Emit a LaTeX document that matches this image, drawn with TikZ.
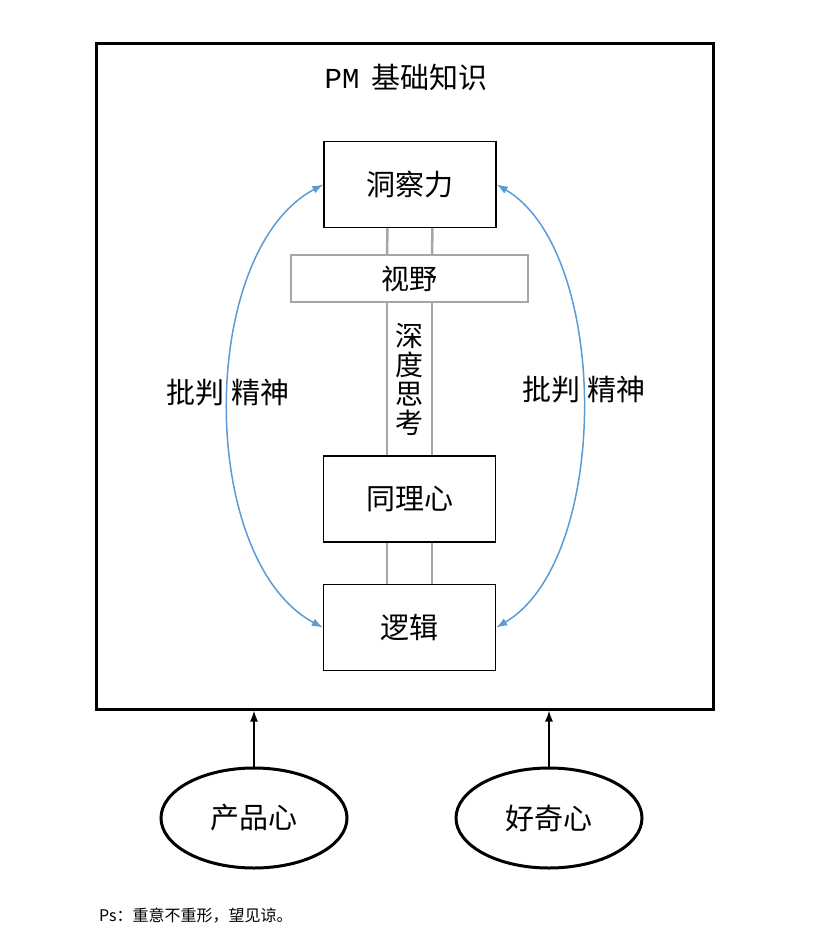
\documentclass[tikz,border=0pt]{standalone}
\usepackage{fontspec}
\newfontfamily\cjk{Noto Sans CJK SC}
\newfontfamily\latinmono{Liberation Mono}
\usepackage{xcolor}
\usepackage{tikz}
\usetikzlibrary{positioning, arrows.meta, shapes.geometric}
\definecolor{arcblue}{HTML}{5B9BD5}
\definecolor{bargray}{HTML}{A6A6A6}

\begin{document}
\begin{tikzpicture}[
        x=1pt, y=-1pt,
        frame/.style={draw, line width=3pt, minimum width=617pt, minimum height=665pt, inner sep=0pt},
        skill/.style={draw, line width=1.5pt, minimum width=172pt, minimum height=86pt, inner sep=0pt, font=\cjk\fontsize{29}{30}\selectfont},
        viewbox/.style={draw=bargray, line width=1.8pt, minimum width=237pt, minimum height=47pt, inner sep=0pt, font=\cjk\fontsize{28}{29}\selectfont},
        bar/.style={bargray, line width=2.5pt},
        critic/.style={arcblue, line width=1.5pt, {Latex[length=11pt,width=8pt]}-{Latex[length=11pt,width=8pt]}},
        drive/.style={ellipse, draw, line width=3pt, minimum width=186pt, minimum height=100pt, inner sep=0pt, font=\cjk\fontsize{29}{30}\selectfont},
        feed/.style={line width=1.6pt, -{Latex[length=11pt,width=8pt]}},
        word/.style={font=\cjk\fontsize{29}{30}\selectfont},
    ]
    \useasboundingbox (0,0) rectangle (818,947);

    % === FRAME ===
    \node[frame] (pm) at (404.5,376.5) {};
    \node[word] (title) at (406,77) {{\latinmono PM}\hspace{12pt}基础知识};

    % === SKILLS ===
    \node[skill] (insight) at (410,184.5) {洞察力};
    \node[viewbox] (view) at (409.5,278.5) {视野};
    \node[skill] (empathy) at (409.5,499) {同理心};
    \node[skill] (logic) at (409.5,627.5) {逻辑};
    \node[word, align=center, font=\cjk\fontsize{28}{29}\selectfont] (deep) at (409,379) {深\\度\\思\\考};

    % Gray rails
    \foreach \a/\b in {insight/view, view/empathy, empathy/logic}
        \foreach \s in {-22.5,22.5}
            \draw[bar] ([xshift=\s pt]\a.south) -- ([xshift=\s pt]\b.north);

    % Critical thinking arcs
    \draw[critic] (logic.west) .. controls (197,560) and (197,252) .. (insight.west);
    \draw[critic] (insight.east) .. controls (611,252) and (611,560) .. (logic.east);
    \node[word] (leftcrit) at (228,393) {批判 精神};
    \node[word] (rightcrit) at (584,390) {批判 精神};

    % === DRIVERS ===
    \node[drive] (product) at (254,818) {产品心};
    \node[drive] (curious) at (549,818) {好奇心};
    \draw[feed] (product.north) -- (product.north |- pm.south);
    \draw[feed] (curious.north) -- (curious.north |- pm.south);

    % Note
    \node[font=\cjk\fontsize{16}{18}\selectfont, anchor=west, inner sep=0pt] (note) at (99,916) {Ps：重意不重形，望见谅。};

\end{tikzpicture}
\end{document}
